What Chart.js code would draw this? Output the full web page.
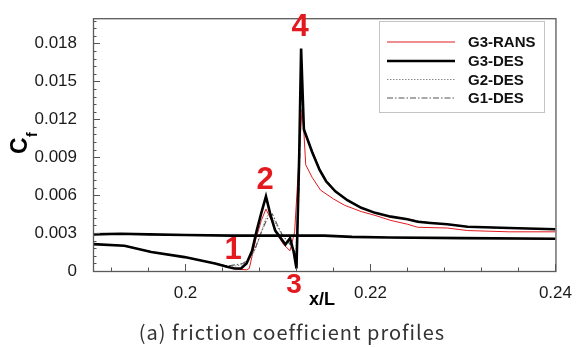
<!DOCTYPE html>
<html>
<head>
<meta charset="utf-8">
<script src="https://cdn.jsdelivr.net/npm/chart.js@4.4.1/dist/chart.umd.min.js"></script>
<style>
  html, body { margin: 0; padding: 0; background: #fff; }
  #wrap { width: 576px; height: 347px; }
</style>
</head>
<body>
<div id="wrap"><canvas id="cf" width="576" height="347"></canvas></div>
<script>
// axis ticks
const xTicks = [0.2, 0.22, 0.24];
const yTicks = [0, 0.003, 0.006, 0.009, 0.012, 0.015, 0.018];

// G3-RANS
const ransX = [0.19, 0.1934, 0.1963, 0.1999, 0.2032, 0.2045, 0.2055, 0.2066, 0.2069, 0.2076, 0.2082, 0.2087,
  0.2093, 0.2100, 0.2106, 0.2113, 0.2118, 0.2122, 0.2126, 0.2128, 0.2130, 0.2137, 0.2146, 0.2160, 0.2172,
  0.2190, 0.2205, 0.2222, 0.2240, 0.2251, 0.2283, 0.2305, 0.2350, 0.2400];
const ransCf = [0.00213, 0.0020, 0.00152, 0.0011, 0.0006, 0.0003, 0.00015, 0.0001, 0.0002, 0.0025, 0.0040, 0.0049,
  0.0040, 0.0028, 0.0021, 0.0016, 0.0031, 0.0080, 0.0128, 0.0110, 0.0084, 0.0074, 0.0064, 0.0057, 0.0052,
  0.0047, 0.0044, 0.0040, 0.0037, 0.00346, 0.0034, 0.0032, 0.0031, 0.0031];

// G3-DES
const g3X = [0.19, 0.1934, 0.1963, 0.1999, 0.2032, 0.2045, 0.2053, 0.2060, 0.2066, 0.2072, 0.2077, 0.2082,
  0.2087, 0.2092, 0.2097, 0.2103, 0.2108, 0.2113, 0.2117, 0.2120, 0.2123, 0.2125, 0.2128, 0.2131, 0.2137,
  0.2145, 0.2152, 0.2162, 0.2175, 0.2190, 0.2205, 0.2222, 0.2240, 0.2251, 0.2265, 0.2283, 0.2305, 0.2350, 0.2400];
const g3Cf = [0.00213, 0.0020, 0.0015, 0.0011, 0.0006, 0.00033, 0.0002, 0.0002, 0.0006, 0.0016, 0.0032, 0.0046,
  0.0059, 0.0044, 0.0032, 0.0026, 0.0021, 0.0026, 0.0015, 0.0002, 0.0093, 0.0176, 0.0112, 0.0106, 0.0094,
  0.0080, 0.0071, 0.0063, 0.0056, 0.0050, 0.0046, 0.0043, 0.0041, 0.0039, 0.0038, 0.0037, 0.0035, 0.0034, 0.0033];

// G2-DES
const g2X = [0.19, 0.1934, 0.1963, 0.1999, 0.2032, 0.2045, 0.2055, 0.2062, 0.2068, 0.2074, 0.2080, 0.2086,
  0.2091, 0.2097, 0.2104, 0.2110, 0.2115, 0.2119, 0.2122, 0.2125, 0.2128, 0.2132, 0.2137, 0.2145, 0.2152,
  0.2162, 0.2175, 0.2190, 0.2205, 0.2222, 0.2240, 0.2265, 0.2283, 0.2305, 0.2350, 0.2400];
const g2Cf = [0.00213, 0.0020, 0.0015, 0.0011, 0.0006, 0.0004, 0.0004, 0.0005, 0.0008, 0.0015, 0.0026, 0.0040,
  0.0047, 0.0038, 0.0029, 0.0024, 0.0020, 0.0010, 0.0060, 0.0160, 0.0115, 0.0104, 0.0095,
  0.0081, 0.0072, 0.0063, 0.0056, 0.0050, 0.0046, 0.0043, 0.0041, 0.0038, 0.0037, 0.0035, 0.0034, 0.0033];

// G1-DES
const g1X = [0.19, 0.1934, 0.1963, 0.1999, 0.2032, 0.2045, 0.2055, 0.2062, 0.2068, 0.2075, 0.2081, 0.2088,
  0.2094, 0.2099, 0.2105, 0.2111, 0.2116, 0.2120, 0.2123, 0.2125, 0.2128, 0.2132, 0.2137, 0.2145, 0.2152,
  0.2162, 0.2175, 0.2190, 0.2205, 0.2222, 0.2240, 0.2265, 0.2283, 0.2305, 0.2350, 0.2400];
const g1Cf = [0.00213, 0.0020, 0.0015, 0.0011, 0.0006, 0.0004, 0.0005, 0.0006, 0.0009, 0.0017, 0.0029, 0.0041,
  0.0045, 0.0037, 0.0028, 0.0023, 0.0018, 0.0012, 0.0070, 0.0150, 0.0113, 0.0104, 0.0095,
  0.0081, 0.0072, 0.0063, 0.0056, 0.0050, 0.0046, 0.0043, 0.0041, 0.0038, 0.0037, 0.0035, 0.0034, 0.0033];

// the other branch of the profile, near-constant Cf
const outerX = [0.19, 0.193, 0.196, 0.2, 0.205, 0.21, 0.215, 0.218, 0.222, 0.23, 0.24];
const outerCf = [0.0029, 0.00295, 0.0029, 0.00285, 0.0028, 0.0028, 0.0028, 0.0027, 0.00265, 0.0026, 0.00255];

const red = "#e3191f";

const series = [
  { label: "G3-RANS", x: ransX, y: ransCf, color: red, width: 1, dash: [], order: 4 },
  { label: "G3-DES", x: g3X, y: g3Cf, color: "#000", width: 2.6, dash: [], order: 1 },
  { label: "G2-DES", x: g2X, y: g2Cf, color: "#8a8a8a", width: 1, dash: [1.5, 1.5], order: 3 },
  { label: "G1-DES", x: g1X, y: g1Cf, color: "#555", width: 1.1, dash: [6, 2, 1.5, 2], order: 2 }
];

const pts = (xs, ys) => xs.map((x, i) => ({ x, y: ys[i] }));

const datasets = [];
series.forEach((s) => {
  const style = {
    borderColor: s.color,
    borderWidth: s.width,
    borderDash: s.dash,
    showLine: true,
    pointRadius: 0,
    tension: 0,
    order: s.order
  };
  datasets.push({ ...style, label: s.label, data: pts(s.x, s.y) });
  datasets.push({ ...style, label: s.label + " outer", data: pts(outerX, outerCf) });
});

// inward tick marks, frame, legend and the text annotations
const decor = {
  id: "decor",
  afterDatasetsDraw(chart) {
    const { ctx, chartArea: a, scales } = chart;
    const xs = scales.x, ys = scales.y;
    ctx.save();

    ctx.strokeStyle = "#555";
    ctx.lineWidth = 1;
    ctx.beginPath();
    for (let v = 0; v <= 0.02 + 1e-9; v += 0.0006) {
      const py = Math.round(ys.getPixelForValue(v)) + 0.5;
      ctx.moveTo(a.left, py);
      ctx.lineTo(a.left + 3.5, py);
    }
    yTicks.forEach((v) => {
      const py = Math.round(ys.getPixelForValue(v)) + 0.5;
      ctx.moveTo(a.left, py);
      ctx.lineTo(a.left + 7, py);
    });
    for (let v = 0.192; v <= 0.24 + 1e-9; v += 0.004) {
      const px = Math.round(xs.getPixelForValue(v)) + 0.5;
      ctx.moveTo(px, a.bottom);
      ctx.lineTo(px, a.bottom - 3.5);
    }
    xTicks.forEach((v) => {
      const px = Math.round(xs.getPixelForValue(v)) + 0.5;
      ctx.moveTo(px, a.bottom);
      ctx.lineTo(px, a.bottom - 7);
    });
    ctx.stroke();

    ctx.strokeStyle = "#5a5a5a";
    ctx.lineWidth = 1.3;
    ctx.strokeRect(a.left + 0.5, a.top + 0.5, a.right - a.left, a.bottom - a.top);

    // legend
    const lx = 379, ly = 21, lw = 165, lh = 91;
    ctx.fillStyle = "#fff";
    ctx.fillRect(lx, ly, lw, lh);
    ctx.strokeStyle = "#c4c4c4";
    ctx.lineWidth = 1;
    ctx.strokeRect(lx + 0.5, ly + 0.5, lw, lh);
    const rows = [42, 61, 79.5, 98];
    ctx.font = "bold 15px 'Liberation Sans', Arial, sans-serif";
    ctx.textBaseline = "middle";
    ctx.textAlign = "left";
    series.forEach((s, i) => {
      ctx.strokeStyle = s.color;
      ctx.lineWidth = s.width;
      ctx.setLineDash(s.dash);
      ctx.beginPath();
      ctx.moveTo(387, rows[i]);
      ctx.lineTo(455, rows[i]);
      ctx.stroke();
      ctx.setLineDash([]);
      ctx.fillStyle = "#111";
      ctx.fillText(s.label, 468, rows[i] + 1);
    });

    // numbered points on the profile
    ctx.fillStyle = red;
    ctx.textAlign = "center";
    ctx.textBaseline = "alphabetic";
    ctx.font = "bold 31px 'Liberation Sans', Arial, sans-serif";
    ctx.fillText("1", 233, 259);
    ctx.fillText("2", 265, 189);
    ctx.fillText("4", 300, 36);
    ctx.font = "bold 28px 'Liberation Sans', Arial, sans-serif";
    ctx.fillText("3", 294, 293);

    // axis titles
    ctx.fillStyle = "#000";
    ctx.textAlign = "left";
    ctx.font = "bold 18px 'Liberation Sans', Arial, sans-serif";
    ctx.fillText("x/L", 309, 305);

    ctx.save();
    ctx.translate(27, 154);
    ctx.rotate(-Math.PI / 2);
    ctx.font = "bold 23px 'Liberation Sans', Arial, sans-serif";
    ctx.fillText("C", 0, 0);
    ctx.font = "bold 14px 'Liberation Sans', Arial, sans-serif";
    ctx.fillText("f", 17, 10);
    ctx.restore();

    // caption
    ctx.fillStyle = "#333";
    ctx.textAlign = "center";
    ctx.font = "20px 'Noto Sans CJK KR', 'Noto Sans', sans-serif";
    if ("letterSpacing" in ctx) ctx.letterSpacing = "1px";
    ctx.fillText("(a) friction coefficient profiles", 292, 340);
    ctx.restore();
  }
};

new Chart(document.getElementById("cf"), {
  type: "scatter",
  data: { datasets },
  options: {
    responsive: false,
    animation: false,
    layout: { padding: { top: 10, right: 20, left: 0, bottom: 0 } },
    plugins: { legend: { display: false }, tooltip: { enabled: false } },
    scales: {
      x: {
        type: "linear",
        min: 0.19,
        max: 0.24,
        afterBuildTicks: (s) => { s.ticks = xTicks.map((value) => ({ value })); },
        afterFit: (s) => { s.height = 76; },
        grid: { display: false },
        border: { display: false },
        ticks: {
          padding: 4,
          color: "#1a1a1a",
          font: { family: "'Liberation Sans', Arial, sans-serif", size: 17 },
          callback: (v) => String(v)
        }
      },
      y: {
        type: "linear",
        min: 0,
        max: 0.02,
        afterBuildTicks: (s) => { s.ticks = yTicks.map((value) => ({ value })); },
        afterFit: (s) => { s.width = 93; },
        grid: { display: false },
        border: { display: false },
        ticks: {
          padding: 8,
          color: "#1a1a1a",
          font: { family: "'Liberation Sans', Arial, sans-serif", size: 17 },
          callback: (v) => (v === 0 ? "0" : v.toFixed(3))
        }
      }
    }
  },
  plugins: [decor]
});
</script>
</body>
</html>
